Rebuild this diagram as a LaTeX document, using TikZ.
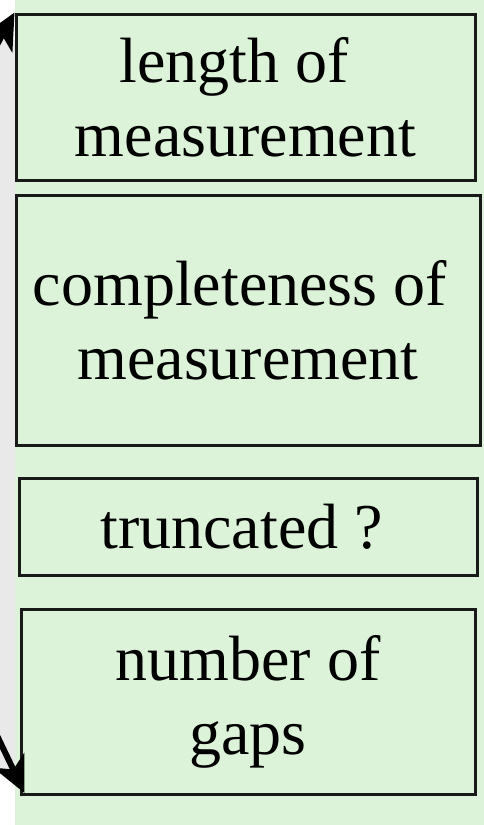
\documentclass[tikz,border=0pt]{standalone}
\usepackage{fontspec}
\setmainfont{Liberation Serif}
\usetikzlibrary{arrows.meta}
\definecolor{bggreen}{HTML}{DDF3D9}
\definecolor{bggray}{HTML}{E9E9E9}
\tikzset{
  box/.style={draw=black!90, line width=3pt, fill=bggreen, inner sep=0pt, align=center,
    font=\fontsize{64}{74}\selectfont},
  link/.style={line width=6pt, -{Stealth[length=36pt,width=34pt,inset=10pt]}}
}
\begin{document}
\begin{tikzpicture}[x=1pt,y=-1pt]
\useasboundingbox (0,0) rectangle (484,825);
\clip (0,0) rectangle (484,825);
\fill[bggreen] (15,0) rectangle (484,825);
\fill[bggray] (0,40) rectangle (15,772);
\node[box, minimum width=459pt, minimum height=166pt] (b1) at (245.5,97) {length of\hspace*{0.35em}\\measurement};
\node[box, minimum width=464pt, minimum height=250pt] (b2) at (248,320) {completeness of\hspace*{0.25em}\\measurement};
\node[box, minimum width=458pt, minimum height=97pt] (b3) at (248,526.5) {truncated ?\hspace*{0.2em}};
\node[box, minimum width=454pt, minimum height=185pt] (b4) at (248,702) {number of\\gaps};
\coordinate (s1) at (-20,76);
\coordinate (s4) at (-20,700);
\draw[link] (s1) -- (b1.north west);
\draw[link] (s4) -- ([xshift=5pt,yshift=3pt]b4.south west);
\end{tikzpicture}
\end{document}
